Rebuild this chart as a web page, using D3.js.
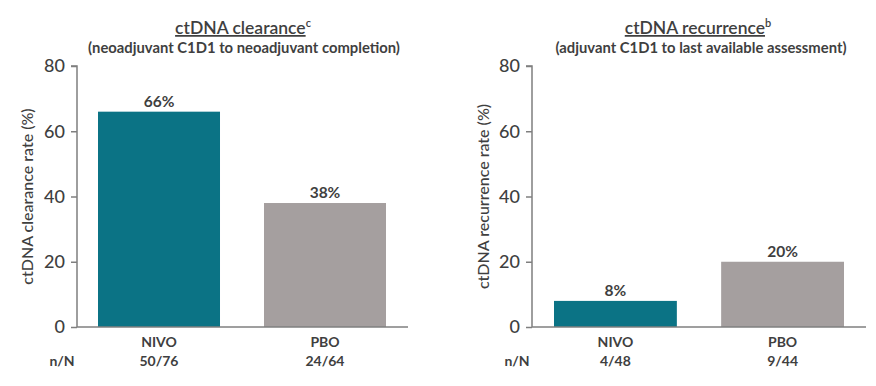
<!DOCTYPE html>
<html><head><meta charset="utf-8">
<script src="https://cdn.jsdelivr.net/npm/d3@7"></script>
<style>
body{margin:0;background:#fff;}
svg{display:block;}
</style></head>
<body>
<svg id="chart" width="876" height="386"></svg>
<script>
const categories = ["NIVO", "PBO"];
const clearanceValues = [66, 38];
const clearanceN = ["50/76", "24/64"];
const recurrenceValues = [8, 20];
const recurrenceN = ["4/48", "9/44"];
const yTicks = [0, 20, 40, 60, 80];
const barColors = ["#0b7385", "#a59f9f"];

const panels = [
  {title: "ctDNA clearance", sup: "c", subtitle: "(neoadjuvant C1D1 to neoadjuvant completion)",
   yLabel: "ctDNA clearance rate (%)", values: clearanceValues, nN: clearanceN,
   x0: 77, x1: 408, bar0: 98, bar1: 386, titleX: 243, subX: 244, ylabX: 26, nnX: 62},
  {title: "ctDNA recurrence", sup: "b", subtitle: "(adjuvant C1D1 to last available assessment)",
   yLabel: "ctDNA recurrence rate (%)", values: recurrenceValues, nN: recurrenceN,
   x0: 532, x1: 866, bar0: 554, bar1: 844, titleX: 698, subX: 701, ylabX: 482, nnX: 517}
];

const svg = d3.select("#chart");
const textColor = "#3f3f3f";
const font = "Lato, 'Open Sans', sans-serif";
const y = d3.scaleLinear().domain([0, 80]).range([327, 66]);

panels.forEach(p => {
  const g = svg.append("g");
  const x = d3.scaleBand().domain(categories).range([p.bar0, p.bar1]).paddingInner(0.265).paddingOuter(0);

  // y axis
  const yAxis = d3.axisLeft(y).tickValues(yTicks).tickSize(6).tickPadding(6);
  const ya = g.append("g").attr("transform", `translate(${p.x0},0)`).call(yAxis);
  ya.select(".domain").attr("stroke", "#7f7f7f").attr("stroke-width", 1.5).attr("d", `M-6,${y(80)}H0V${y(0)}`);
  ya.selectAll(".tick line").attr("stroke", "#7f7f7f").attr("stroke-width", 1.5);
  ya.selectAll(".tick text").attr("fill", textColor).attr("font-family", font)
    .attr("font-weight", 500).attr("font-size", 18);

  // bars
  g.selectAll("rect.bar").data(p.values).join("rect")
    .attr("x", (d, i) => x(categories[i]))
    .attr("width", x.bandwidth())
    .attr("y", d => y(d))
    .attr("height", d => y(0) - y(d))
    .attr("fill", (d, i) => barColors[i]);

  // x baseline
  g.append("line").attr("x1", p.x0).attr("x2", p.x1).attr("y1", y(0)).attr("y2", y(0))
    .attr("stroke", "#7f7f7f").attr("stroke-width", 1.5);

  // value labels
  g.selectAll("text.val").data(p.values).join("text")
    .attr("x", (d, i) => x(categories[i]) + x.bandwidth() / 2)
    .attr("y", d => y(d) - 5)
    .attr("text-anchor", "middle").attr("font-family", font).attr("font-weight", "bold")
    .attr("font-size", 15.5).attr("fill", textColor).text(d => d + "%");

  // category labels
  g.selectAll("text.cat").data(categories).join("text")
    .attr("x", d => x(d) + x.bandwidth() / 2).attr("y", 347)
    .attr("text-anchor", "middle").attr("font-family", font).attr("font-weight", "bold")
    .attr("font-size", 14).attr("fill", textColor).text(d => d);
  g.selectAll("text.nn").data(p.nN).join("text")
    .attr("x", (d, i) => x(categories[i]) + x.bandwidth() / 2).attr("y", 366)
    .attr("text-anchor", "middle").attr("font-family", font).attr("font-weight", "bold")
    .attr("font-size", 14).attr("fill", textColor).text(d => d);
  g.append("text").attr("x", p.nnX).attr("y", 366).attr("text-anchor", "middle")
    .attr("font-family", font).attr("font-weight", "bold").attr("font-size", 14)
    .attr("fill", textColor).text("n/N");

  // y label
  g.append("text").attr("transform", `translate(${p.ylabX},${(y(0) + y(80)) / 2}) rotate(-90)`)
    .attr("text-anchor", "middle").attr("dominant-baseline", "central")
    .attr("font-family", font).attr("font-weight", 500).attr("font-size", 16)
    .attr("fill", textColor).text(p.yLabel);

  // title
  const t = g.append("text").attr("x", p.titleX).attr("y", 34).attr("text-anchor", "middle")
    .attr("font-family", font).attr("font-weight", 600).attr("font-size", 17.5).attr("fill", textColor);
  t.append("tspan").attr("text-decoration", "underline").text(p.title);
  t.append("tspan").attr("font-size", 11).attr("dy", -7).text(p.sup);
  g.append("text").attr("x", p.subX).attr("y", 53).attr("text-anchor", "middle")
    .attr("font-family", font).attr("font-weight", "bold").attr("font-size", 14.8)
    .attr("fill", textColor).text(p.subtitle);
});
</script>
</body></html>
